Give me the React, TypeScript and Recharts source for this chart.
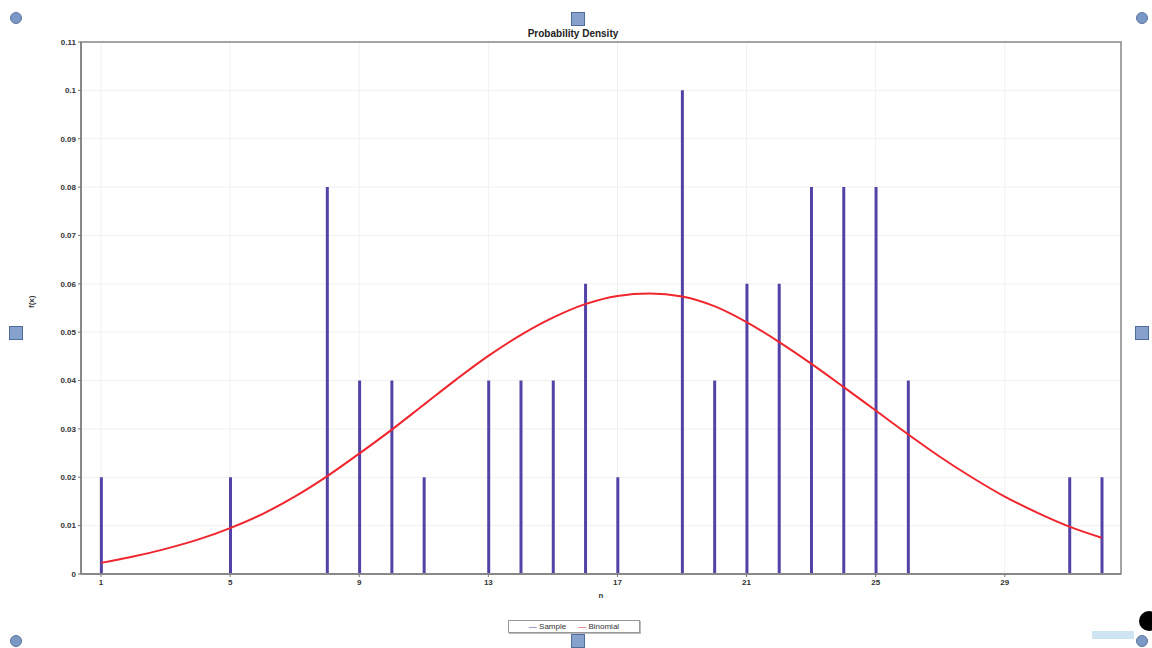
import { ComposedChart, Bar, Line, XAxis, YAxis, CartesianGrid, ReferenceArea } from 'recharts';

// sample frequencies (x -> observed probability)
const sampleX = [1, 5, 8, 9, 10, 11, 13, 14, 15, 16, 17, 19, 20, 21, 22, 23, 24, 25, 26, 31, 32];
const sampleP = [0.02, 0.02, 0.08, 0.04, 0.04, 0.02, 0.04, 0.04, 0.04, 0.06, 0.02, 0.1, 0.04, 0.06, 0.06, 0.08, 0.08, 0.08, 0.04, 0.02, 0.02];

// binomial curve, for n = 1..32
const binomialX = [1, 2, 3, 4, 5, 6, 7, 8, 9, 10, 11, 12, 13, 14, 15, 16, 17, 18, 19, 20, 21, 22, 23, 24, 25, 26, 27, 28, 29, 30, 31, 32];
const binomialP = [
    0.0023, 0.0036, 0.0052, 0.0071, 0.0095, 0.0124, 0.016, 0.0202, 0.0249, 0.0298, 0.035, 0.0402,
    0.0451, 0.0494, 0.053, 0.0558, 0.0575, 0.058, 0.0574, 0.0554, 0.0521, 0.048, 0.0435, 0.0387,
    0.0338, 0.0289, 0.0242, 0.0199, 0.016, 0.0127, 0.0098, 0.0075,
];

const xTicks = [1, 5, 9, 13, 17, 21, 25, 29];
const yTicks = [0, 0.01, 0.02, 0.03, 0.04, 0.05, 0.06, 0.07, 0.08, 0.09, 0.1, 0.11];

const data = binomialX.map((x, i) => {
    const j = sampleX.indexOf(x);
    return { x, binomial: binomialP[i], sample: j >= 0 ? sampleP[j] : undefined };
});

const X_MIN = 0.38;
const X_MAX = 32.6;

const tickStyle = { fill: '#333', fontSize: 8, fontWeight: 700, fontFamily: 'Liberation Sans, Arial, sans-serif' };

const Circle = ({ left, top }: { left: number; top: number }) => (
    <div style={{
        position: 'absolute', left: left - 6, top: top - 6, width: 12, height: 12, borderRadius: '50%',
        background: '#7b98c4', border: '1px solid #5a76a3', boxSizing: 'border-box'
    }} />
);

const Square = ({ left, top }: { left: number; top: number }) => (
    <div style={{
        position: 'absolute', left: left - 7, top: top - 7, width: 14, height: 14,
        background: '#86a2cc', border: '1px solid #4f6d9c', boxSizing: 'border-box'
    }} />
);

const App = () => {
    return (
        <div style={{ position: 'absolute', left: 0, top: 0, width: 1152, height: 648, background: '#fff', overflow: 'hidden' }}>
            <div style={{
                position: 'absolute', left: 0, width: 1152, top: 28, textAlign: 'center',
                fontFamily: 'Liberation Sans, Arial, sans-serif', fontWeight: 700, fontSize: 10, color: '#222'
            }}>
                <span style={{ position: 'relative', left: -3 }}>Probability Density</span>
            </div>

            <ComposedChart width={1152} height={648} data={data} margin={{ top: 42, right: 31, bottom: 44, left: 0 }}>
                <CartesianGrid stroke="#f0f0f0" strokeWidth={1} />
                <XAxis
                    dataKey="x"
                    type="number"
                    domain={[X_MIN, X_MAX]}
                    ticks={xTicks}
                    allowDataOverflow
                    height={30}
                    tick={tickStyle}
                    tickSize={3}
                    tickLine={{ stroke: '#777' }}
                    axisLine={{ stroke: '#888', strokeWidth: 2 }}
                    label={{ value: 'n', position: 'insideBottom', offset: 6, style: tickStyle }}
                />
                <YAxis
                    type="number"
                    domain={[0, 0.11]}
                    ticks={yTicks}
                    width={81}
                    tick={tickStyle}
                    tickSize={3}
                    tickLine={{ stroke: '#777' }}
                    axisLine={{ stroke: '#888', strokeWidth: 2 }}
                    label={{ value: 'f(x)', angle: -90, position: 'insideLeft', offset: 31, style: tickStyle }}
                />
                <ReferenceArea x1={X_MIN} x2={X_MAX} y1={0} y2={0.11} fill="none" stroke="#888" strokeWidth={1.5} ifOverflow="visible" />
                <Bar dataKey="sample" name="Sample" fill="#5442a6" barSize={3} isAnimationActive={false} />
                <Line dataKey="binomial" name="Binomial" type="monotone" stroke="#f0262e" strokeWidth={2} dot={false} isAnimationActive={false} />
            </ComposedChart>

            <div style={{
                position: 'absolute', left: 508, top: 620, width: 132, height: 13, boxSizing: 'border-box',
                border: '1px solid #999', boxShadow: '1px 1px 0 #bbb', display: 'flex', alignItems: 'center',
                justifyContent: 'center', gap: 12, fontFamily: 'Liberation Sans, Arial, sans-serif', fontSize: 8,
                color: '#333', background: '#fff'
            }}>
                <span><span style={{ color: '#5442a6' }}>—</span> Sample</span>
                <span><span style={{ color: '#f0262e' }}>—</span> Binomial</span>
            </div>

            <Circle left={16} top={18} />
            <Circle left={1142} top={18} />
            <Circle left={16} top={641} />
            <Circle left={1142} top={641} />
            <Square left={578} top={19} />
            <Square left={16} top={333} />
            <Square left={1142} top={333} />
            <Square left={578} top={641} />
            <div style={{ position: 'absolute', left: 1139, top: 611, width: 20, height: 20, borderRadius: '50%', background: '#000' }} />
            <div style={{ position: 'absolute', left: 1092, top: 631, width: 42, height: 8, background: '#cfe4f2' }} />
        </div>
    );
};

export default App;
